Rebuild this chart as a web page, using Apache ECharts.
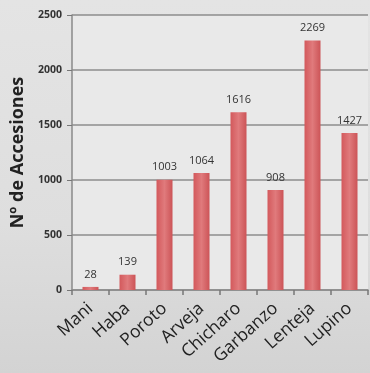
<!DOCTYPE html>
<html>
<head>
<meta charset="utf-8">
<script src="https://cdn.jsdelivr.net/npm/echarts@6/dist/echarts.min.js"></script>
<style>
html, body { margin:0; padding:0; }
#main { width:370px; height:373px; background:linear-gradient(180deg,#e4e4e4 0%,#dedede 60%,#d3d3d3 100%); }
</style>
</head>
<body>
<div id="main"></div>
<script>
// cultivos y número de accesiones
const categories = ['Mani','Haba','Poroto','Arveja','Chicharo','Garbanzo','Lenteja','Lupino'];
const values = [28, 139, 1003, 1064, 1616, 908, 2269, 1427];
const yTicks = [0, 500, 1000, 1500, 2000, 2500];

let myChart = echarts.init(document.getElementById('main'));
let option = {
    animation:false,
    backgroundColor:'transparent',
    grid:{
        left:72,
        right:2,
        top:15,
        bottom:83,
        show:true,
        backgroundColor:'#e9e9e9',
        borderWidth:0
    },
    xAxis:{
        type:'category',
        data:categories,
        axisLine:{ lineStyle:{ color:'#8a8a8a', width:1.5 } },
        axisTick:{ show:true, length:5, lineStyle:{ color:'#777', width:1.5 } },
        axisLabel:{
            rotate:42,
            color:'#222',
            fontSize:17.5,
            fontFamily:'Open Sans',
            margin:16
        }
    },
    yAxis:{
        type:'value',
        min:yTicks[0],
        max:yTicks[yTicks.length-1],
        interval:500,
        name:'Nº de Accesiones',
        nameLocation:'middle',
        nameGap:44,
        nameTextStyle:{
            color:'#222',
            fontSize:18,
            fontWeight:'bold',
            fontFamily:'Open Sans'
        },
        axisLine:{ show:true, lineStyle:{ color:'#8a8a8a', width:1.5 } },
        axisTick:{ show:true, length:5, lineStyle:{ color:'#777' } },
        axisLabel:{
            color:'#333',
            fontSize:10.5,
            fontWeight:'bold',
            fontFamily:'Open Sans',
            margin:10,
            formatter:v => String(v)
        },
        splitLine:{ show:true, lineStyle:{ color:'#8c8c8c', width:1.5 } }
    },
    series:[{
        type:'bar',
        data:values,
        barWidth:16,
        itemStyle:{
            color:new echarts.graphic.LinearGradient(0,0,1,0,[
                { offset:0, color:'#d3595c' },
                { offset:0.5, color:'#e07a7c' },
                { offset:1, color:'#cc5457' }
            ])
        },
        label:{
            show:true,
            position:'top',
            distance:7,
            color:'#333',
            fontSize:11,
            fontFamily:'Open Sans'
        }
    }]
};
myChart.setOption(option);
</script>
</body>
</html>
